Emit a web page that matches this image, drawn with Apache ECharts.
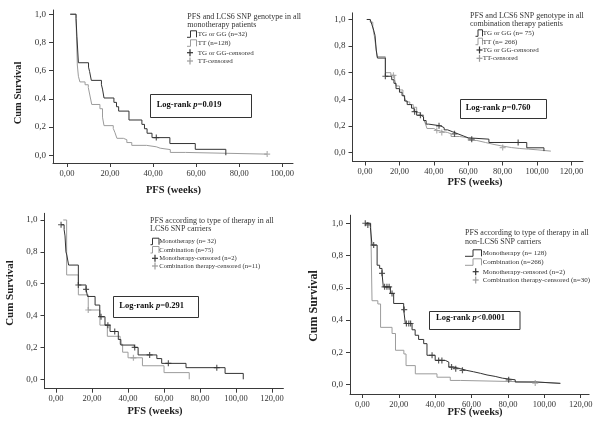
<!DOCTYPE html>
<html><head><meta charset="utf-8">
<script src="https://cdn.jsdelivr.net/npm/echarts@6/dist/echarts.min.js"></script>
<style>html,body{margin:0;padding:0;background:#fff}#c{width:601px;height:429px}</style>
</head><body><div id="c"></div>
<script>
// ---------- DATA ----------
const xTicksA = [0, 20, 40, 60, 80, 100];
const xTicksB = [0, 20, 40, 60, 80, 100, 120];
const yTicks = [0, 0.2, 0.4, 0.6, 0.8, 1.0];

// Panel 1: monotherapy, TG/GG vs TT
const p1TgGg = [[1.5,1],[4.2,0.969],[4.6,0.844],[5.3,0.656],[10,0.625],[10.5,0.594],[11.3,0.531],[16,0.5],[16.5,0.469],[17.2,0.406],[21.8,0.375],[23,0.344],[24,0.313],[28.8,0.25],[34.8,0.219],[36,0.188],[37.2,0.156],[39.5,0.125],[47.8,0.083],[59.6,0.042],[73.8,0]];
const p1TgGgCens = [[41.5,0.125]];
const p1Tt = [[1.5,1],[4.2,0.97],[4.8,0.64],[5.3,0.56],[6,0.52],[8.4,0.5],[9.9,0.48],[10.7,0.42],[11.5,0.36],[15.3,0.33],[16.5,0.27],[17.2,0.21],[21.5,0.19],[22.3,0.16],[23.2,0.12],[26.2,0.11],[27.8,0.09],[30.1,0.07],[37,0.06],[41.5,0.05],[43.3,0.04],[48,0.02],[55,0.014],[73.8,0.008],[93,0.008]];
const p1TtCens = [[93,0.008]];

// Panel 2: combination, TG/GG vs TT
const p2TgGg = [[1,1],[3,0.987],[4,0.96],[5,0.92],[5.8,0.88],[6.5,0.77],[7.2,0.71],[11.8,0.573],[15.5,0.547],[16.8,0.52],[18,0.48],[20,0.453],[21.5,0.427],[23,0.387],[24.5,0.36],[27,0.333],[28.5,0.307],[30,0.28],[32.5,0.267],[34,0.24],[35.5,0.213],[37,0.2],[44,0.186],[46,0.17],[48,0.155],[51,0.14],[54,0.125],[57,0.11],[60,0.1],[72,0.075],[94,0.035],[104,0.01]];
const p2TgGgCens = [[11.8,0.573],[28.8,0.307],[32.2,0.28],[43,0.2],[52,0.14],[62,0.1],[89,0.075]];
const p2Tt = [[1,1],[3,0.98],[4.5,0.95],[5,0.9],[5.5,0.87],[6.2,0.8],[7,0.72],[11.8,0.6],[15,0.58],[17.2,0.55],[18,0.5],[20,0.47],[22,0.44],[23,0.41],[24,0.38],[26,0.36],[28,0.34],[30,0.3],[32,0.28],[34,0.25],[35,0.22],[36,0.18],[40,0.165],[42,0.15],[48,0.14],[50,0.12],[55,0.11],[60,0.09],[65,0.075],[70,0.06],[75,0.05],[79,0.037],[85,0.03],[90,0.025],[95,0.02],[100,0.015],[104,0.01],[108,0.005]];
const p2TtCens = [[16.5,0.58],[41.7,0.165],[44.6,0.15],[80,0.037]];

// Panel 3: LCS6 carriers, monotherapy vs combination
const p3Mono = [[2.8,0.97],[4.5,0.94],[5,0.9],[5.5,0.8],[6,0.78],[7,0.717],[12.4,0.592],[16.7,0.565],[17.5,0.52],[21.7,0.466],[24.3,0.393],[27.2,0.34],[30,0.3],[34.6,0.25],[36,0.215],[43.5,0.2],[45.6,0.153],[56,0.13],[58.7,0.1],[72.2,0.073],[93.9,0.037],[104,0]];
const p3MonoCens = [[2.8,0.97],[12.4,0.592],[16.7,0.565],[25,0.393],[28.8,0.34],[32.6,0.3],[43.7,0.2],[52,0.153],[62.4,0.1],[89.3,0.073]];
const p3Comb = [[4,1],[5.9,0.655],[12.4,0.53],[17.9,0.435],[24.4,0.34],[28.5,0.27],[35.6,0.22],[37,0.17],[40,0.135],[48,0.085],[60,0.042],[74,0]];
const p3CombCens = [[17.9,0.435],[43,0.135]];

// Panel 4: non-carriers, monotherapy vs combination
const p4Mono = [[1.6,1],[4.4,0.975],[5.3,0.865],[8.1,0.74],[9.5,0.72],[10.8,0.69],[11.5,0.606],[15.4,0.565],[17.2,0.503],[22.7,0.465],[23.6,0.379],[27.3,0.34],[29,0.306],[30.9,0.28],[33.7,0.254],[35.5,0.182],[40,0.15],[45.6,0.14],[47.5,0.109],[50,0.099],[54,0.089],[57,0.08],[61,0.07],[65,0.06],[68.5,0.051],[73,0.04],[77,0.03],[84,0.016],[96,0.008],[108.8,0.008]];
const p4MonoCens = [[1.6,1],[3,0.99],[6.2,0.865],[10.8,0.69],[12.2,0.606],[13.5,0.606],[14.7,0.606],[16.3,0.565],[23,0.465],[24.2,0.379],[25.5,0.379],[26.5,0.379],[38.3,0.182],[41.9,0.15],[43.7,0.15],[49,0.109],[51.3,0.099],[55,0.089],[80.4,0.03]];
const p4Comb = [[2,1],[4.6,0.99],[5.3,0.52],[8.5,0.5],[10,0.355],[16.3,0.317],[18.2,0.213],[22.8,0.19],[24,0.118],[29.1,0.067],[41,0.046],[48.3,0.026],[53.8,0.016],[96,0.008],[108.8,0.008]];
const p4CombCens = [[95,0.01]];

// Texts
const legendTitles = [
  ['PFS and LCS6 SNP genotype in all', 'monotherapy patients'],
  ['PFS and LCS6 SNP genotype in all', 'combination therapy patients'],
  ['PFS according to type of therapy in all', 'LCS6 SNP carriers'],
  ['PFS according to type of therapy in all', 'non-LCS6 SNP carriers']
];
const legendEntries = [
  ['TG or GG (n=32)', 'TT (n=128)', 'TG or GG-censored', 'TT-censored'],
  ['TG or GG (n= 75)', 'TT (n= 266)', 'TG or GG-censored', 'TT-censored'],
  ['Monotherapy (n= 32)', 'Combination (n=75)', 'Monotherapy-censored (n=2)', 'Combination therapy-censored (n=11)'],
  ['Monotherapy (n= 128)', 'Combination (n=266)', 'Monotherapy-censored (n=2)', 'Combination therapy-censored (n=30)']
];
const pValues = ['=0.019', '=0.760', '=0.291', '<0.0001'];
const yTitle = 'Cum Survival';
const xTitle = 'PFS (weeks)';

// ---------- LAYOUT / STYLE ----------
const FF = '"Liberation Serif", "Times New Roman", serif';
const DARK = '#333333';
const LIGHT = '#9c9c9c';
const AX = '#3a3a3a';

const grids = [
  {left:53,   top:10,    width:240,   height:153,   xMin:-6.5, xMax:105,   yMin:-0.055, yMax:1.03,  xt:xTicksA},
  {left:352.5,top:12.85, width:230.5, height:148.65,xMin:-7.3, xMax:126.7, yMin:-0.068, yMax:1.05,  xt:xTicksB},
  {left:44.5, top:213.3, width:238.9, height:175.4, xMin:-6.4, xMax:126.3, yMin:-0.059, yMax:1.042, xt:xTicksB},
  {left:350,  top:215.2, width:239.1, height:178.8, xMin:-6.8, xMax:124.6, yMin:-0.058, yMax:1.05,  xt:xTicksB}
];
const seriesSets = [
  [p1TgGg, p1Tt, p1TgGgCens, p1TtCens],
  [p2TgGg, p2Tt, p2TgGgCens, p2TtCens],
  [p3Mono, p3Comb, p3MonoCens, p3CombCens],
  [p4Mono, p4Comb, p4MonoCens, p4CombCens]
];

const PLUS = 'path://M4,0H6V4H10V6H6V10H4V6H0V4H4Z';

const option = {
  animation: false,
  backgroundColor: '#ffffff',
  grid: grids.map(g => ({left:g.left, top:g.top, width:g.width, height:g.height, containLabel:false})),
  xAxis: grids.map((g,i) => ({
    type:'value', gridIndex:i, min:g.xMin, max:g.xMax,
    axisLine:{show:true, onZero:false, lineStyle:{color:AX, width:1}},
    axisTick:{show:true, length:4, customValues:g.xt, lineStyle:{color:AX}},
    axisLabel:{customValues:g.xt, margin:6, fontFamily:FF, fontSize:8.5, color:'#333',
      formatter:v => v.toFixed(2).replace('.', ',')},
    splitLine:{show:false}
  })),
  yAxis: grids.map((g,i) => ({
    type:'value', gridIndex:i, min:g.yMin, max:g.yMax,
    axisLine:{show:true, onZero:false, lineStyle:{color:AX, width:1}},
    axisTick:{show:true, length:4, customValues:yTicks, lineStyle:{color:AX}},
    axisLabel:{customValues:yTicks, margin:7, fontFamily:FF, fontSize:9, color:'#333',
      formatter:v => v.toFixed(1).replace('.', ',')},
    splitLine:{show:false}
  })),
  series: []
};

seriesSets.forEach((set, i) => {
  const [d1, d2, c1, c2] = set;
  option.series.push({type:'line', step:'end', xAxisIndex:i, yAxisIndex:i, data:d2, symbol:'none',
    lineStyle:{color:LIGHT, width:1}, z:2});
  option.series.push({type:'line', step:'end', xAxisIndex:i, yAxisIndex:i, data:d1, symbol:'none',
    lineStyle:{color:DARK, width:1}, z:3});
  option.series.push({type:'scatter', xAxisIndex:i, yAxisIndex:i, data:c2, symbol:PLUS, symbolSize:6,
    itemStyle:{color:LIGHT}, z:4});
  option.series.push({type:'scatter', xAxisIndex:i, yAxisIndex:i, data:c1, symbol:PLUS, symbolSize:6,
    itemStyle:{color:DARK}, z:5});
});

// ---------- GRAPHICS (titles, legends, boxes) ----------
const G = [];
function txt(x, y, text, size, weight, opts) {
  opts = opts || {};
  G.push({type:'text', x:x, y:y, rotation:opts.rot || 0, silent:true,
    style:{text:text, fontFamily:FF, fontSize:size, fontWeight:weight || 'normal',
      fill:opts.fill || '#222', align:opts.align || 'left', verticalAlign:'middle'}});
}
function stepSym(x0, yc, w1, w2, color) {
  G.push({type:'polyline', silent:true, shape:{points:[[x0,yc+3],[x0+w1,yc+3],[x0+w1,yc-3.5],[x0+w1+w2,yc-3.5],[x0+w1+w2,yc+3]]},
    style:{stroke:color, fill:null, lineWidth:1}});
}
function plusSym(xc, yc, color) {
  G.push({type:'line', silent:true, shape:{x1:xc-3, y1:yc, x2:xc+3, y2:yc}, style:{stroke:color, lineWidth:1.2}});
  G.push({type:'line', silent:true, shape:{x1:xc, y1:yc-3.5, x2:xc, y2:yc+3.5}, style:{stroke:color, lineWidth:1.2}});
}
function box(x, y, w, h, pv, tx, ty) {
  G.push({type:'rect', silent:true, shape:{x:x, y:y, width:w, height:h}, style:{fill:null, stroke:'#333', lineWidth:1}});
  G.push({type:'text', x:tx, y:ty, silent:true, style:{
    text:'{b|Log-rank }{i|p}{b|' + pv + '}', align:'left', verticalAlign:'middle',
    rich:{b:{fontFamily:FF, fontSize:8.5, fontWeight:'bold', fill:'#111'},
          i:{fontFamily:FF, fontSize:8.5, fontWeight:'bold', fontStyle:'italic', fill:'#111'}}}});
}

// Axis titles
txt(18, 93, yTitle, 10.5, 'bold', {rot:Math.PI/2, align:'center'});
txt(10.5, 293, yTitle, 11, 'bold', {rot:Math.PI/2, align:'center'});
txt(313.5, 306, yTitle, 12, 'bold', {rot:Math.PI/2, align:'center'});
txt(173.5, 190.7, xTitle, 10.5, 'bold', {align:'center'});
txt(475, 182.3, xTitle, 10.5, 'bold', {align:'center'});
txt(155, 411.7, xTitle, 10.5, 'bold', {align:'center'});
txt(475, 412.7, xTitle, 10.5, 'bold', {align:'center'});

// Legends
const legPos = [
  {tx:187.3, ty:[17.3,25], ex:197.7, ey:[34.3,43.3,52.7,61], sx:187, w1:3.5, w2:6, px:190, tsz:8, esz:7},
  {tx:470,   ty:[15.7,24], ex:482.7, ey:[33.3,41.7,50,58.3], sx:475.5, w1:2.5, w2:4.5, px:479.5, tsz:8, esz:7},
  {tx:150,   ty:[220.7,229.3], ex:159.3, ey:[241.7,250,258.3,266], sx:150.5, w1:2, w2:6.5, px:155, tsz:8, esz:6.6},
  {tx:465,   ty:[233.3,242.3], ex:482.7, ey:[253.3,262.3,271.7,280], sx:465, w1:8, w2:8.5, px:475.7, tsz:8, esz:7}
];
legPos.forEach((p, i) => {
  txt(p.tx, p.ty[0], legendTitles[i][0], p.tsz, 'normal', {fill:'#333'});
  txt(p.tx, p.ty[1], legendTitles[i][1], p.tsz, 'normal', {fill:'#333'});
  stepSym(p.sx, p.ey[0], p.w1, p.w2, DARK);
  stepSym(p.sx, p.ey[1], p.w1, p.w2, LIGHT);
  plusSym(p.px, p.ey[2], DARK);
  plusSym(p.px, p.ey[3], LIGHT);
  legendEntries[i].forEach((e, k) => txt(p.ex, p.ey[k], e, p.esz, 'normal', {fill:'#333'}));
});

// Log-rank boxes
box(150.5, 94.5, 101, 23, pValues[0], 156.7, 104.5);
box(460.5, 99.5, 86, 19, pValues[1], 465.7, 107.8);
box(113.5, 296.5, 85, 21, pValues[2], 119.3, 305.5);
box(429.5, 311.5, 90.5, 18, pValues[3], 436, 318);

option.graphic = {elements: G};

const chart = echarts.init(document.getElementById('c'), null, {renderer:'canvas'});
chart.setOption(option);
</script>
</body></html>
